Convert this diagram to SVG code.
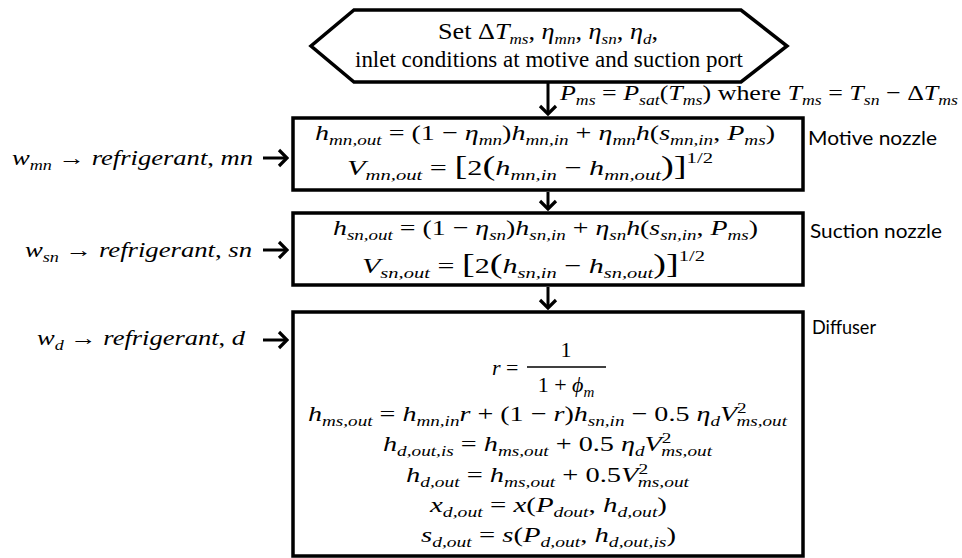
<svg xmlns="http://www.w3.org/2000/svg" width="962" height="558" viewBox="0 0 962 558">
<style>
.t{font-family:"Liberation Serif","Times New Roman",serif;font-size:23px;fill:#000}
.m{font-family:"Liberation Serif","Times New Roman",serif;font-size:22px;fill:#000}
.i{font-style:italic}
.sb{font-size:15px;baseline-shift:-5px}
.sp{font-size:15px;baseline-shift:12px}
.sp2{font-size:15px;baseline-shift:8px}
.br{font-size:28px}
.lbl{font-family:Lato,"Open Sans",sans-serif;font-size:19px;fill:#000}
.box{fill:#fff;stroke:#000;stroke-width:3.5}
.con{fill:none;stroke:#000;stroke-width:3}
</style>
<defs>
<marker id="ah" viewBox="-12 -11 14 22" refX="0" refY="0" markerWidth="14" markerHeight="22" markerUnits="userSpaceOnUse" orient="auto">
<path d="M-8,-8 L0,0 L-8,8" fill="none" stroke="#000" stroke-width="3.2"/>
</marker>
</defs>
<rect width="962" height="558" fill="#fff"/>

<g id="start">
<polygon class="box" stroke-width="3" points="354,10 741,10 787,46 741,82 354,82 311,46"/>
<text class="t" x="438" y="39" textLength="220" lengthAdjust="spacingAndGlyphs">Set Δ<tspan class="i">T</tspan><tspan class="i sb">ms</tspan>, <tspan class="i">η</tspan><tspan class="i sb">mn</tspan>, <tspan class="i">η</tspan><tspan class="i sb">sn</tspan>, <tspan class="i">η</tspan><tspan class="i sb">d</tspan>,</text>
<text class="t" x="355" y="67" textLength="388" lengthAdjust="spacingAndGlyphs">inlet conditions at motive and suction port</text>
</g>

<g id="motive-nozzle">
<rect class="box" x="293" y="118" width="510" height="72"/>
<text class="m" x="315" y="140" textLength="460" lengthAdjust="spacingAndGlyphs"><tspan class="i">h</tspan><tspan class="i sb">mn,out</tspan> = (1 − <tspan class="i">η</tspan><tspan class="i sb">mn</tspan>)<tspan class="i">h</tspan><tspan class="i sb">mn,in</tspan> + <tspan class="i">η</tspan><tspan class="i sb">mn</tspan><tspan class="i">h</tspan>(<tspan class="i">s</tspan><tspan class="i sb">mn,in</tspan>, <tspan class="i">P</tspan><tspan class="i sb">ms</tspan>)</text>
<text class="m" x="347" y="175" textLength="366" lengthAdjust="spacingAndGlyphs"><tspan class="i">V</tspan><tspan class="i sb">mn,out</tspan> = <tspan class="br">[</tspan>2<tspan class="br">(</tspan><tspan class="i">h</tspan><tspan class="i sb">mn,in</tspan> − <tspan class="i">h</tspan><tspan class="i sb">mn,out</tspan><tspan class="br">)]</tspan><tspan class="sp">1/2</tspan></text>
<text class="lbl" x="808" y="145" textLength="129" lengthAdjust="spacingAndGlyphs">Motive nozzle</text>
</g>

<g id="suction-nozzle">
<rect class="box" x="293" y="213" width="510" height="72"/>
<text class="m" x="333" y="235" textLength="425" lengthAdjust="spacingAndGlyphs"><tspan class="i">h</tspan><tspan class="i sb">sn,out</tspan> = (1 − <tspan class="i">η</tspan><tspan class="i sb">sn</tspan>)<tspan class="i">h</tspan><tspan class="i sb">sn,in</tspan> + <tspan class="i">η</tspan><tspan class="i sb">sn</tspan><tspan class="i">h</tspan>(<tspan class="i">s</tspan><tspan class="i sb">sn,in</tspan>, <tspan class="i">P</tspan><tspan class="i sb">ms</tspan>)</text>
<text class="m" x="362" y="273" textLength="343" lengthAdjust="spacingAndGlyphs"><tspan class="i">V</tspan><tspan class="i sb">sn,out</tspan> = <tspan class="br">[</tspan>2<tspan class="br">(</tspan><tspan class="i">h</tspan><tspan class="i sb">sn,in</tspan> − <tspan class="i">h</tspan><tspan class="i sb">sn,out</tspan><tspan class="br">)]</tspan><tspan class="sp">1/2</tspan></text>
<text class="lbl" x="810" y="238" textLength="132" lengthAdjust="spacingAndGlyphs">Suction nozzle</text>
</g>

<g id="diffuser">
<rect class="box" x="293" y="312" width="510" height="244"/>
<text class="m" x="492" y="375"><tspan class="i">r</tspan> =</text>
<text class="m" x="566" y="357" text-anchor="middle">1</text>
<line x1="527" y1="367" x2="606" y2="367" stroke="#000" stroke-width="1.3"/>
<text class="m" x="566" y="392" text-anchor="middle">1 + <tspan class="i">ϕ</tspan><tspan class="i sb">m</tspan></text>
<text class="m" x="308" y="421" textLength="479" lengthAdjust="spacingAndGlyphs"><tspan class="i">h</tspan><tspan class="i sb">ms,out</tspan> = <tspan class="i">h</tspan><tspan class="i sb">mn,in</tspan><tspan class="i">r</tspan> + (1 − <tspan class="i">r</tspan>)<tspan class="i">h</tspan><tspan class="i sb">sn,in</tspan> − 0.5 <tspan class="i">η</tspan><tspan class="i sb">d</tspan><tspan class="i">V</tspan><tspan class="sp2">2</tspan><tspan class="i sb" dx="-8">ms,out</tspan></text>
<text class="m" x="383" y="451" textLength="329" lengthAdjust="spacingAndGlyphs"><tspan class="i">h</tspan><tspan class="i sb">d,out,is</tspan> = <tspan class="i">h</tspan><tspan class="i sb">ms,out</tspan> + 0.5 <tspan class="i">η</tspan><tspan class="i sb">d</tspan><tspan class="i">V</tspan><tspan class="sp2">2</tspan><tspan class="i sb" dx="-8">ms,out</tspan></text>
<text class="m" x="406" y="482" textLength="283" lengthAdjust="spacingAndGlyphs"><tspan class="i">h</tspan><tspan class="i sb">d,out</tspan> = <tspan class="i">h</tspan><tspan class="i sb">ms,out</tspan> + 0.5<tspan class="i">V</tspan><tspan class="sp2">2</tspan><tspan class="i sb" dx="-8">ms,out</tspan></text>
<text class="m" x="430" y="512" textLength="237" lengthAdjust="spacingAndGlyphs"><tspan class="i">x</tspan><tspan class="i sb">d,out</tspan> = <tspan class="i">x</tspan>(<tspan class="i">P</tspan><tspan class="i sb">dout</tspan>, <tspan class="i">h</tspan><tspan class="i sb">d,out</tspan>)</text>
<text class="m" x="421" y="542" textLength="255" lengthAdjust="spacingAndGlyphs"><tspan class="i">s</tspan><tspan class="i sb">d,out</tspan> = <tspan class="i">s</tspan>(<tspan class="i">P</tspan><tspan class="i sb">d,out</tspan>, <tspan class="i">h</tspan><tspan class="i sb">d,out,is</tspan>)</text>
<text class="lbl" x="812" y="334" textLength="64" lengthAdjust="spacingAndGlyphs">Diffuser</text>
</g>

<g id="input-mn">
<text class="m" x="12" y="165" textLength="241" lengthAdjust="spacingAndGlyphs"><tspan class="i">w</tspan><tspan class="i sb">mn</tspan> → <tspan class="i">refrigerant</tspan>, <tspan class="i">mn</tspan></text>
</g>
<g id="input-sn">
<text class="m" x="25" y="257" textLength="227" lengthAdjust="spacingAndGlyphs"><tspan class="i">w</tspan><tspan class="i sb">sn</tspan> → <tspan class="i">refrigerant</tspan>, <tspan class="i">sn</tspan></text>
</g>
<g id="input-d">
<text class="m" x="37" y="345" textLength="208" lengthAdjust="spacingAndGlyphs"><tspan class="i">w</tspan><tspan class="i sb">d</tspan> → <tspan class="i">refrigerant</tspan>, <tspan class="i">d</tspan></text>
</g>

<g id="connectors">
<line class="con" x1="548" y1="83" x2="548" y2="114" marker-end="url(#ah)"/>
<text class="m" x="560" y="100" textLength="398" lengthAdjust="spacingAndGlyphs"><tspan class="i">P</tspan><tspan class="i sb">ms</tspan> = <tspan class="i">P</tspan><tspan class="i sb">sat</tspan>(<tspan class="i">T</tspan><tspan class="i sb">ms</tspan>) where <tspan class="i">T</tspan><tspan class="i sb">ms</tspan> = <tspan class="i">T</tspan><tspan class="i sb">sn</tspan> − Δ<tspan class="i">T</tspan><tspan class="i sb">ms</tspan></text>
<line class="con" x1="548" y1="192" x2="548" y2="209" marker-end="url(#ah)"/>
<line class="con" x1="548" y1="287" x2="548" y2="308" marker-end="url(#ah)"/>
<line class="con" x1="263" y1="158" x2="287" y2="158" marker-end="url(#ah)"/>
<line class="con" x1="263" y1="250" x2="287" y2="250" marker-end="url(#ah)"/>
<line class="con" x1="263" y1="340" x2="287" y2="340" marker-end="url(#ah)"/>
</g>
</svg>
